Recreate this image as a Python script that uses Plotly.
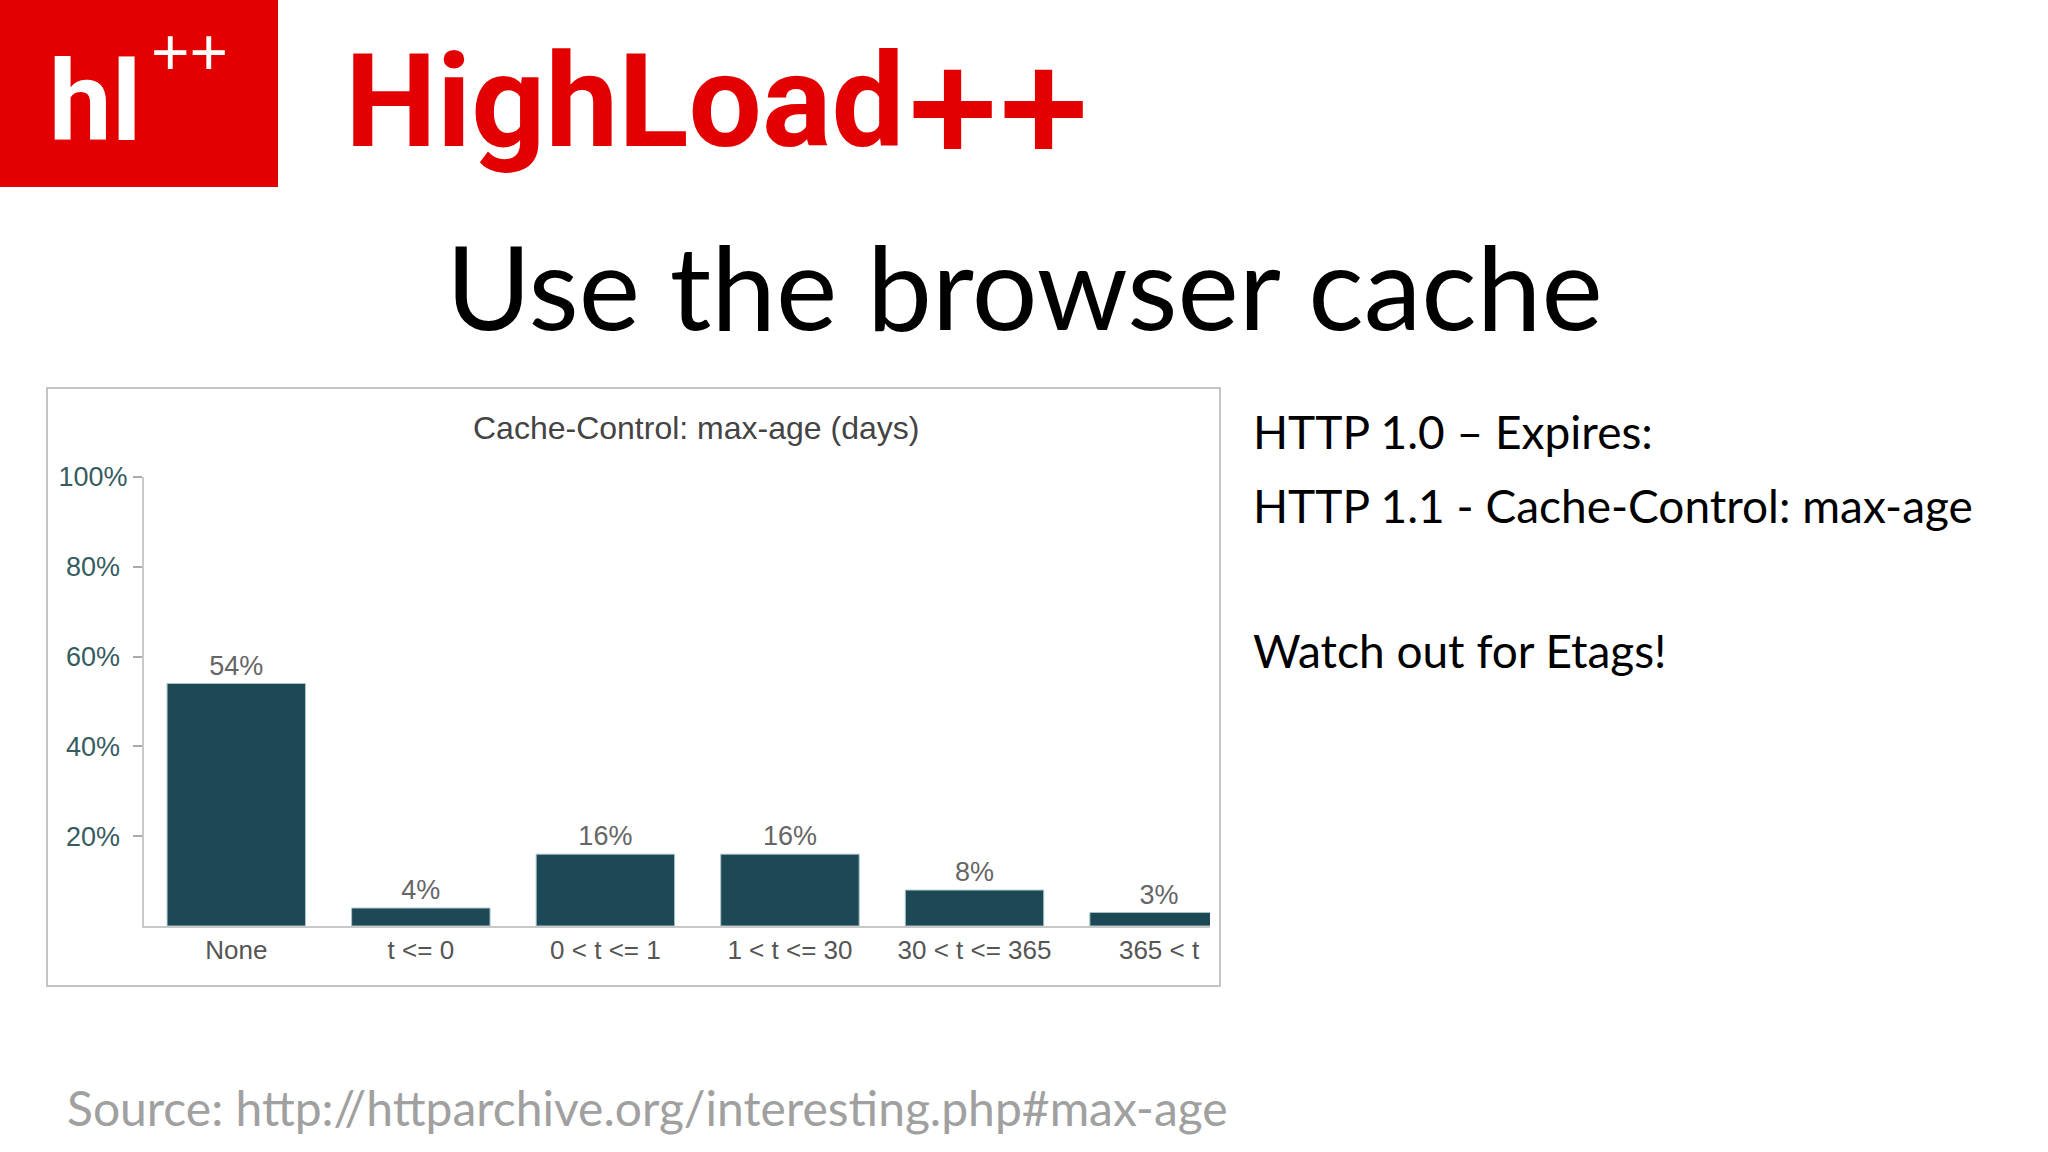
import plotly.graph_objects as go

W, H = 2048, 1152

categories = ["None", "t <= 0", "0 < t <= 1", "1 < t <= 30", "30 < t <= 365", "365 < t"]
shares = [54, 4, 16, 16, 8, 3]
ytick_vals = [20, 40, 60, 80, 100]
ytick_text = ["20%\u00a0", "40%\u00a0", "60%\u00a0", "80%\u00a0", "100%"]

CHART = "Liberation Sans, Arial, Helvetica, sans-serif"
LOGO = "Roboto, Liberation Sans, Arial, sans-serif"
SLIDE = "Lato, Carlito, Calibri, 'Open Sans', sans-serif"


def px(x):
    return x / W


def py(y):
    return 1 - y / H


fig = go.Figure()
fig.add_trace(go.Bar(
    x=categories,
    y=shares,
    width=0.75,
    marker=dict(color="#1c4955", line=dict(width=1, color="#a9c4c9")),
    text=[f"{v}%" for v in shares],
    textposition="outside",
    textfont=dict(family=CHART, size=27, color="#666666"),
    cliponaxis=False,
    hoverinfo="skip",
))

fig.update_layout(
    template="none",
    width=W, height=H,
    autosize=False,
    margin=dict(l=0, r=0, t=0, b=0, pad=0, autoexpand=False),
    paper_bgcolor="white",
    plot_bgcolor="white",
    showlegend=False,
    xaxis=dict(
        domain=[px(144), px(1210)],
        range=[-0.5, 5.276],
        automargin=False,
        showgrid=False, zeroline=False,
        showline=True, linecolor="#c8c8c8", linewidth=2,
        ticks="", tickangle=0,
        tickfont=dict(family=CHART, size=26, color="#555555"),
        fixedrange=True,
    ),
    yaxis=dict(
        domain=[py(926), py(477)],
        range=[0, 100],
        automargin=False,
        showgrid=False, zeroline=False,
        showline=True, linecolor="#c8c8c8", linewidth=2,
        tickvals=ytick_vals, ticktext=ytick_text,
        ticks="outside", ticklen=9, tickcolor="#aaaaaa", tickwidth=2,
        tickfont=dict(family=CHART, size=27, color="#365c5f"),
        fixedrange=True,
    ),
)

shapes = [
    dict(type="rect", xref="paper", yref="paper", x0=px(0), x1=px(278), y0=py(187), y1=py(0),
         fillcolor="#e30000", line=dict(width=0), layer="below"),
    dict(type="rect", xref="paper", yref="paper", x0=px(47), x1=px(1220), y0=py(986), y1=py(388),
         fillcolor="rgba(0,0,0,0)", line=dict(color="#c4c4c4", width=2)),
]
fig.update_layout(shapes=shapes)

ann = []


def add(text, x, y, size, color, family, xanchor="left", yanchor="middle"):
    ann.append(dict(text=text, x=px(x), y=py(y), xref="paper", yref="paper",
                    xanchor=xanchor, yanchor=yanchor, showarrow=False,
                    font=dict(family=family, size=size, color=color)))


add("<b>hl</b>", 95, 102, 112, "white", LOGO, xanchor="center")
add("++", 189, 52, 66, "white", CHART, xanchor="center")
add("<b>HighLoad</b>", 343, 102, 130, "#e30000", LOGO)
add("<b>++</b>", 1091, 107, 156, "#e30000", CHART, xanchor="right")
add("Use the browser cache", 1024, 286, 116, "black", SLIDE, xanchor="center")
add("Cache-Control: max-age (days)", 696, 428, 32, "#444444", CHART, xanchor="center")
add("HTTP 1.0 \u2013 Expires:", 1251, 431, 46, "black", SLIDE)
add("HTTP 1.1 - Cache-Control: max-age", 1251, 505, 46, "black", SLIDE)
add("Watch out for Etags!", 1251, 650, 46, "black", SLIDE)
add("Source: http://httparchive.org/interesting.php#max-age", 65, 1107, 48, "#a0a0a0", SLIDE)
fig.update_layout(annotations=ann)

fig.write_html(
    "out.html",
    config={"displayModeBar": False},
    post_script=(
        "document.body.style.margin='0';document.body.style.overflow='hidden';"
        "document.documentElement.style.overflow='hidden';"
        "var d=document.getElementById('{plot_id}');"
        "d.style.position='fixed';d.style.top='0px';d.style.left='0px';"
    ),
)
